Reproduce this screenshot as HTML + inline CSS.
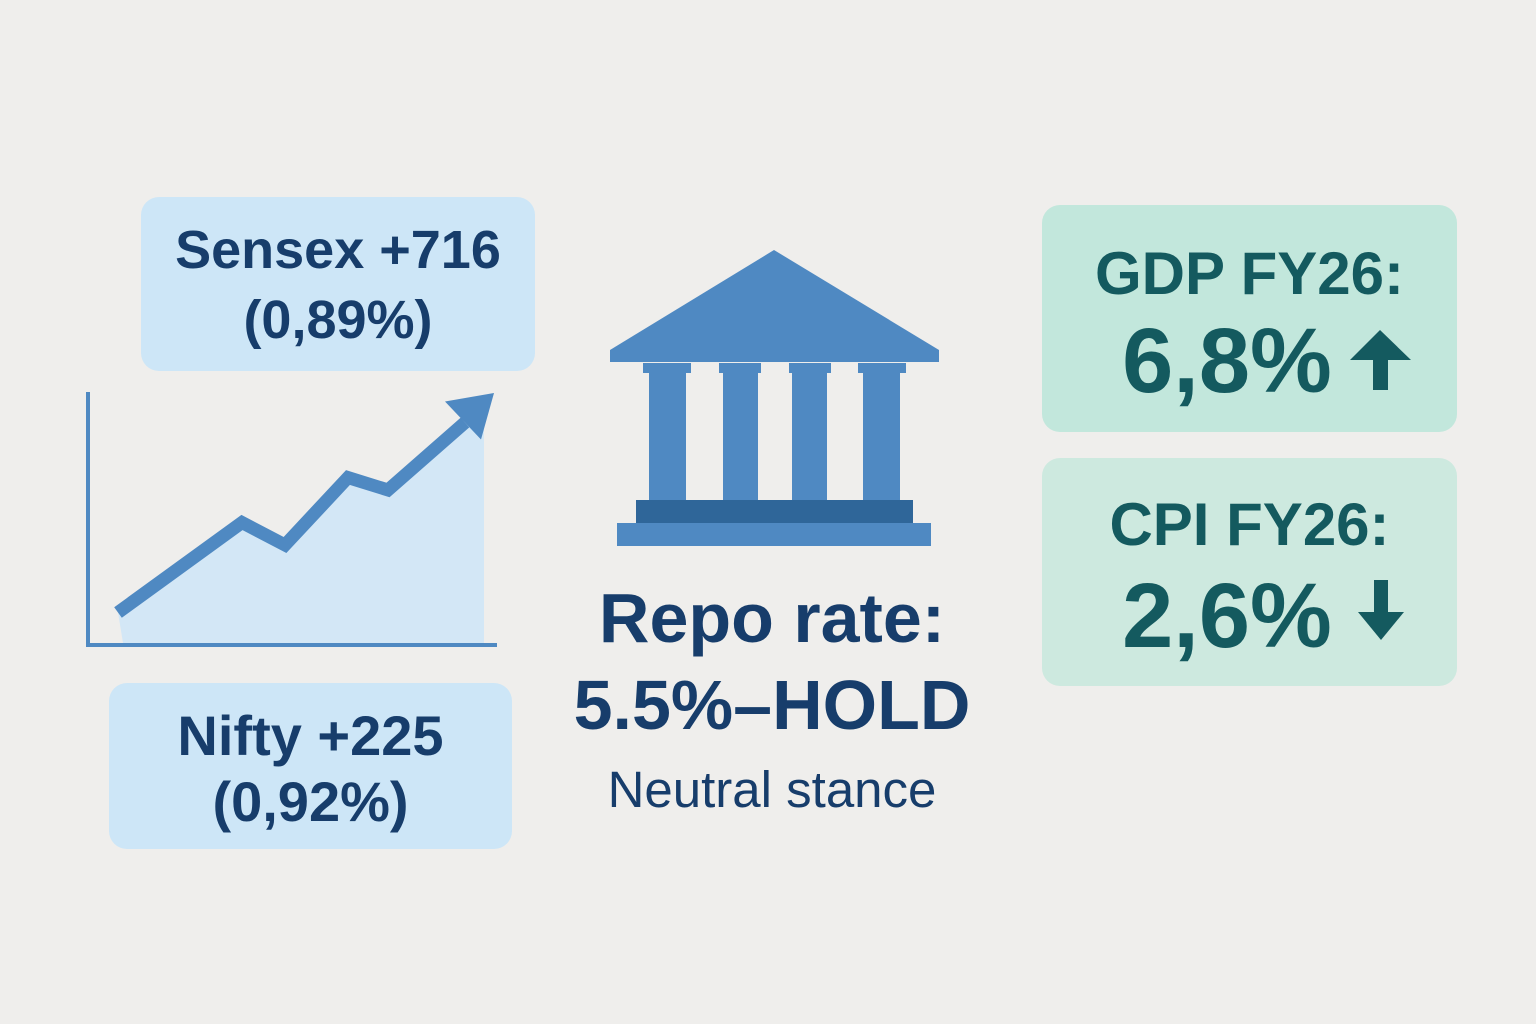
<!DOCTYPE html>
<html><head><meta charset="utf-8"><style>
html,body{margin:0;padding:0}
body{width:1536px;height:1024px;background:#efeeec;position:relative;overflow:hidden;font-family:"Liberation Sans",sans-serif}
.box{position:absolute;border-radius:18px;text-align:center;font-weight:bold}
.t{position:absolute;left:0;right:0;text-align:center;white-space:nowrap}
</style></head><body>
<div class="box" style="left:141px;top:197px;width:394px;height:174px;background:#cde6f7;color:#173d6b;font-size:54px">
 <div class="t" style="top:22px">Sensex +716</div>
 <div class="t" style="top:92px">(0,89%)</div>
</div>
<div class="box" style="left:109px;top:683px;width:403px;height:166px;background:#cde6f7;color:#173d6b;font-size:56px">
 <div class="t" style="top:20px">Nifty +225</div>
 <div class="t" style="top:86px">(0,92%)</div>
</div>
<div class="box" style="left:1042px;top:205px;width:415px;height:227px;background:#c2e7dc;color:#145a5f">
 <div class="t" style="top:34px;font-size:60px">GDP FY26:</div>
 <div class="t" style="top:104px;left:-45px;font-size:92px">6,8%</div>
</div>
<div class="box" style="left:1042px;top:458px;width:415px;height:228px;background:#cde9df;color:#145a5f">
 <div class="t" style="top:32px;font-size:60px">CPI FY26:</div>
 <div class="t" style="top:106px;left:-45px;font-size:92px">2,6%</div>
</div>
<div style="position:absolute;left:540px;width:464px;top:578px;text-align:center;font-weight:bold;font-size:70px;color:#173d6b">Repo rate:</div>
<div style="position:absolute;left:520px;width:504px;top:665px;text-align:center;font-weight:bold;font-size:70px;color:#173d6b;white-space:nowrap">5.5%–HOLD</div>
<div style="position:absolute;left:540px;width:464px;top:760px;text-align:center;font-size:51px;color:#173d6b">Neutral stance</div>
<svg width="1536" height="1024" style="position:absolute;left:0;top:0">
 <g fill="#4f89c2">
  <polygon points="774,250 939,350 939,362 610,362 610,350" />
  <rect x="643" y="363" width="48" height="10"/><rect x="719" y="363" width="42" height="10"/><rect x="789" y="363" width="42" height="10"/><rect x="858" y="363" width="48" height="10"/>
  <rect x="649" y="372" width="37" height="128"/><rect x="723" y="372" width="35" height="128"/><rect x="792" y="372" width="35" height="128"/><rect x="863" y="372" width="37" height="128"/>
  <rect x="636" y="500" width="277" height="23" fill="#2f6699"/>
  <rect x="617" y="523" width="314" height="23"/>
 </g>
 <g fill="#145a5f">
  <rect x="1373" y="352" width="15" height="38"/>
  <polygon points="1350,360 1380,330 1411,360"/>
 </g>
 <g fill="#145a5f">
  <rect x="1374" y="580" width="14" height="36"/>
  <polygon points="1358,612 1381,640 1404,612"/>
 </g>
 <g id="chart"></g>
</svg>
<script>
const days=[0,1,2,3,4,5];
const values=[10,28,23.5,37,34.5,48];
function xScale(d){const xs=[0,124,167,230,270,347];return 118+xs[d];}
function yScale(v){return 645-(v-3.5)*5;}
const g=document.getElementById('chart');
const ns='http://www.w3.org/2000/svg';
function mk(t,a){const e=document.createElementNS(ns,t);for(const k in a)e.setAttribute(k,a[k]);g.appendChild(e);return e;}
let pts=days.map((d,i)=>[xScale(d),yScale(values[i])]);
const area=mk('polygon',{points:'123,643 '+pts.map(p=>p.join(',')).join(' ')+' 484,'+(yScale(values[5])+5)+' 484,643',fill:'#d3e7f6'});


const line=mk('polyline',{points:pts.map(p=>p.join(',')).join(' '),fill:'none',stroke:'#4f89c2','stroke-width':13,'stroke-linejoin':'miter'});


const last=pts[pts.length-1];
const head=mk('polygon',{points:`494,393 ${last[0]-20},${last[1]-21} ${last[0]+16},${last[1]+17}`,fill:'#4f89c2'});


const ya=mk('rect',{x:86,y:392,width:4,height:255,fill:'#4f89c2'});


const xa=mk('rect',{x:86,y:643,width:411,height:4,fill:'#4f89c2'});


</script>
</body></html>
